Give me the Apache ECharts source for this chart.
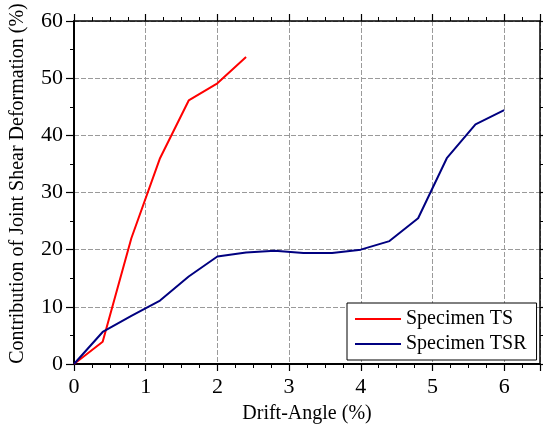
<!DOCTYPE html>
<html>
<head>
<meta charset="utf-8">
<script src="https://cdn.jsdelivr.net/npm/echarts@6/dist/echarts.min.js"></script>
<style>
  html, body { margin: 0; padding: 0; background: #fff; }
  #chart { width: 543px; height: 429px; }
</style>
</head>
<body>
<div id="chart"></div>
<script>
  // drift angle (%) and joint shear contribution (%)
  const tsAngle = [0, 0.4, 0.8, 1.2, 1.6, 2.0, 2.4];
  const tsValue = [0, 3.9, 22, 36, 46.1, 49.1, 53.7];
  const tsrAngle = [0, 0.4, 0.8, 1.2, 1.6, 2.0, 2.4, 2.8, 3.2, 3.6, 4.0, 4.4, 4.8, 5.2, 5.6, 6.0];
  const tsrValue = [0, 5.6, 8.4, 11.1, 15.3, 18.8, 19.5, 19.8, 19.4, 19.4, 20.0, 21.5, 25.5, 36.0, 41.9, 44.4];
  const seriesNames = ['Specimen TS', 'Specimen TSR'];

  const font = 'Liberation Serif';
  const myChart = echarts.init(document.getElementById('chart'));

  const pair = (xs, ys) => xs.map((x, i) => [x, ys[i]]);

  const xBase = {
    type: 'value', min: 0, max: 6.5, interval: 1,
    axisTick: {show: true, length: 7, lineStyle: {color: '#000', width: 1.2}},
    minorTick: {show: true, splitNumber: 4, length: 4, lineStyle: {color: '#000', width: 1}},
  };
  const yBase = {
    type: 'value', min: 0, max: 60, interval: 10,
    axisTick: {show: true, length: 8, lineStyle: {color: '#000', width: 1.2}},
    minorTick: {show: true, splitNumber: 2, length: 4, lineStyle: {color: '#000', width: 1}},
  };

  myChart.setOption({
    animation: false,
    textStyle: {fontFamily: font},
    grid: {left: 71, top: 21, width: 469, height: 343, containLabel: false},
    legend: {
      orient: 'vertical',
      left: 347, top: 303,
      padding: [6, 10, 6, 8],
      itemGap: 5,
      itemWidth: 46, itemHeight: 2,
      icon: 'rect',
      borderColor: '#000', borderWidth: 1,
      backgroundColor: '#fff',
      textStyle: {fontFamily: font, fontSize: 20, color: '#000', lineHeight: 20},
      data: seriesNames
    },
    xAxis: [
      Object.assign({}, xBase, {
        position: 'bottom',
        name: 'Drift-Angle (%)', nameLocation: 'middle', nameGap: 40,
        nameTextStyle: {fontFamily: font, fontSize: 20, color: '#000'},
        axisLine: {show: true, onZero: false, lineStyle: {color: '#000', width: 2}},
        axisLabel: {fontFamily: font, fontSize: 22, color: '#000', margin: 12, showMaxLabel: false},
        splitLine: {show: true, lineStyle: {color: '#9a9a9a', type: [5, 2], width: 1}}
      }),
      Object.assign({}, xBase, {
        position: 'top',
        axisLine: {show: true, onZero: false, lineStyle: {color: '#000', width: 1.5}},
        axisLabel: {show: false},
        splitLine: {show: false}
      })
    ],
    yAxis: [
      Object.assign({}, yBase, {
        position: 'left',
        name: 'Contribution of Joint Shear Deformation (%)', nameLocation: 'middle', nameGap: 46,
        nameTextStyle: {fontFamily: font, fontSize: 20, color: '#000', padding: [0, 0, 0, 18]},
        axisLine: {show: true, onZero: false, lineStyle: {color: '#000', width: 2}},
        axisLabel: {fontFamily: font, fontSize: 22, color: '#000', margin: 11},
        splitLine: {show: true, lineStyle: {color: '#9a9a9a', type: [5, 2], width: 1}}
      }),
      Object.assign({}, yBase, {
        position: 'right',
        axisLine: {show: true, onZero: false, lineStyle: {color: '#000', width: 1.5}},
        axisLabel: {show: false},
        splitLine: {show: false}
      })
    ],
    series: [
      {name: seriesNames[0], data: pair(tsAngle, tsValue), color: '#ff0000'},
      {name: seriesNames[1], data: pair(tsrAngle, tsrValue), color: '#000080'}
    ].map(obj => ({
      ...obj,
      type: 'line',
      xAxisIndex: 0, yAxisIndex: 0,
      showSymbol: false, symbol: 'none',
      lineStyle: {width: 2, color: obj.color},
      itemStyle: {color: obj.color}
    }))
  });
</script>
</body>
</html>
